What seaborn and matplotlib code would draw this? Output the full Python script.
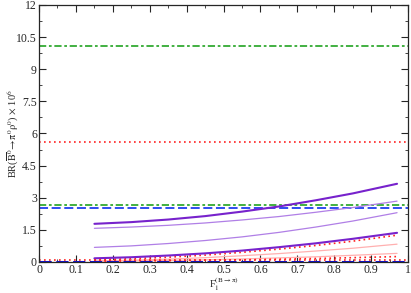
import matplotlib
matplotlib.use("Agg")
import matplotlib.pyplot as plt
import seaborn as sns
import numpy as np
from matplotlib.ticker import MultipleLocator, FuncFormatter

sns.set_style("ticks")
plt.rcParams['font.family'] = ['Liberation Serif', 'DejaVu Serif']
plt.rcParams['mathtext.fontset'] = 'stix'

# ---- data ----
x_full = [0.0, 1.0]
green_top = [10.1, 10.1]
red_mid = [5.6, 5.6]
green_low = [2.65, 2.65]
blue_low = [2.53, 2.53]
red_base = [0.1, 0.1]
blue_base = [0.02, 0.02]

x_curve = [0.15, 0.25, 0.35, 0.45, 0.55, 0.65, 0.75, 0.85, 0.97]
purple_thick_upper = [1.78, 1.86, 1.98, 2.14, 2.35, 2.59, 2.88, 3.20, 3.65]
purple_thin_upper = [1.57, 1.63, 1.71, 1.82, 1.96, 2.12, 2.32, 2.54, 2.84]
purple_thin_lower = [0.68, 0.75, 0.86, 1.00, 1.17, 1.38, 1.63, 1.91, 2.30]
purple_thick_lower = [0.17, 0.22, 0.30, 0.40, 0.53, 0.69, 0.87, 1.08, 1.36]
red_dot_upper = [0.10, 0.15, 0.22, 0.32, 0.45, 0.60, 0.77, 0.97, 1.25]
pink_upper = [0.05, 0.08, 0.13, 0.20, 0.29, 0.39, 0.51, 0.64, 0.83]
pink_lower = [0.03, 0.05, 0.07, 0.10, 0.14, 0.19, 0.24, 0.31, 0.40]
red_dot_lower = [0.04, 0.04, 0.06, 0.08, 0.10, 0.13, 0.16, 0.20, 0.25]

x_ticks = [0, 0.1, 0.2, 0.3, 0.4, 0.5, 0.6, 0.7, 0.8, 0.9, 1]
y_ticks = [0, 1.5, 3, 4.5, 6, 7.5, 9, 10.5, 12]

fig = plt.figure(figsize=(4.11, 2.93), dpi=100)
ax = fig.add_axes([0.095, 0.106, 0.898, 0.877])

green = '#33aa33'
blue = '#1f3fef'
red = '#ff2020'
purple = '#7722cc'
lpurple = '#b07fe6'
pink = '#ffb0b0'

dashdot = (0, (4, 1.5, 1.5, 1.5))
sns.lineplot(x=x_full, y=green_top, ax=ax, color=green, lw=1.3, linestyle=dashdot)
sns.lineplot(x=x_full, y=red_mid, ax=ax, color=red, lw=1.2, linestyle=(0, (1, 2)))
sns.lineplot(x=x_full, y=green_low, ax=ax, color=green, lw=1.3, linestyle=dashdot)
sns.lineplot(x=x_full, y=blue_low, ax=ax, color=blue, lw=1.3, linestyle=(0, (5, 2)))

sns.lineplot(x=x_curve, y=pink_upper, ax=ax, color=pink, lw=0.9)
sns.lineplot(x=x_curve, y=pink_lower, ax=ax, color=pink, lw=0.9)
sns.lineplot(x=x_curve, y=red_dot_lower, ax=ax, color=red, lw=1.2, linestyle=(0, (1, 2)))
sns.lineplot(x=x_curve, y=red_dot_upper, ax=ax, color=red, lw=1.2, linestyle=(0, (1, 2)))
sns.lineplot(x=x_curve, y=purple_thin_upper, ax=ax, color=lpurple, lw=0.9)
sns.lineplot(x=x_curve, y=purple_thin_lower, ax=ax, color=lpurple, lw=0.9)
sns.lineplot(x=x_curve, y=purple_thick_upper, ax=ax, color=purple, lw=1.5)
sns.lineplot(x=x_curve, y=purple_thick_lower, ax=ax, color=purple, lw=1.5)

sns.lineplot(x=x_full, y=red_base, ax=ax, color=red, lw=1.2, linestyle=(0, (1, 2)))
sns.lineplot(x=x_full, y=blue_base, ax=ax, color='#1010cc', lw=2.2, linestyle=(0, (4, 1.5)))

ax.set_xlim(0, 1)
ax.set_ylim(0, 12)
ax.set_xticks(x_ticks)
ax.set_yticks(y_ticks)
ax.xaxis.set_minor_locator(MultipleLocator(0.05))
ax.yaxis.set_minor_locator(MultipleLocator(0.75))
fmt = FuncFormatter(lambda v, p: f"{v:g}")
ax.xaxis.set_major_formatter(fmt)
ax.yaxis.set_major_formatter(fmt)
ax.tick_params(which='both', direction='in', top=True, right=True, labelsize=8.5, pad=1.5)
ax.tick_params(which='major', length=5, width=0.8)
ax.tick_params(which='minor', length=2.5, width=0.6)
for s in ax.spines.values():
    s.set_linewidth(0.9)
    s.set_visible(True)

ax.set_xlabel(r'F$_1^{\rm (B\rightarrow\pi)}$', fontsize=7.5)
ax.set_ylabel(r'BR($\overline{\rm B}^0\!\rightarrow\!\pi^0\rho^0$) $\times$ 10$^6$', fontsize=7.5)
ax.xaxis.set_label_coords(0.5, -0.087, transform=ax.transAxes)
ax.xaxis.label.set_va('center')
ax.yaxis.set_label_coords(-0.07, 0.5, transform=ax.transAxes)
ax.yaxis.label.set_va('center')

fig.savefig('out.png', dpi=100)
